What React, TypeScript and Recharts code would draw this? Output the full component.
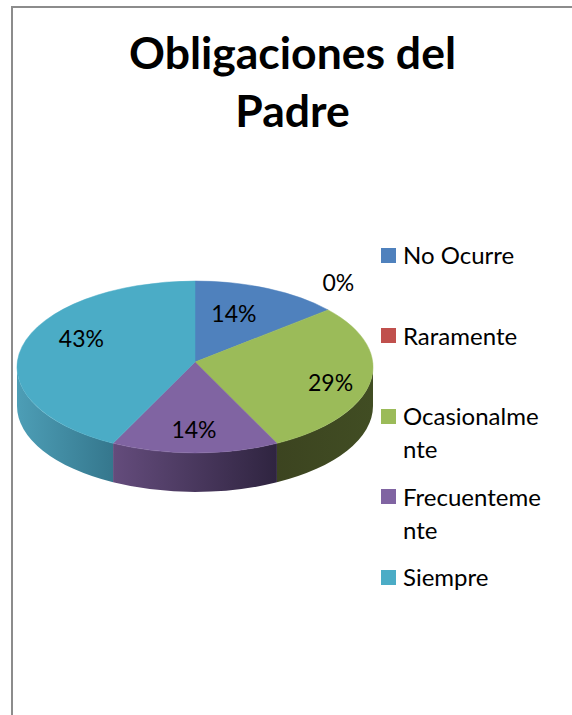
import React from "react";
import { PieChart, Pie, Legend } from "recharts";

const categories = ["No Ocurre", "Raramente", "Ocasionalmente", "Frecuentemente", "Siempre"];
const counts = [1, 0, 2, 1, 3];
const colors = ["#4F81BD", "#C0504D", "#9BBB59", "#8064A2", "#4BACC6"];
const wallFrom = ["#3b5f8c", "#8f3b39", "#414d23", "#644c7c", "#4d9eb6"];
const wallTo = ["#2a4566", "#6b2c2a", "#3c4420", "#2f2440", "#35778d"];
const titleLines = ["Obligaciones del", "Padre"];

const data = categories.map((name, i) => ({ name, value: counts[i], fill: colors[i] }));

const FONT = "Lato, 'Open Sans', sans-serif";
const CX = 195;
const CY = 367;
const RX = 178;
const RY = 86;
const APEX_DY = -5;
const DEPTH = 39;
const labelNudge = [[-9, -6], [57, -52], [28, 3], [-1, 9], [-6, -17]];

// slight perspective warp of the pie angle, as in the 3D original
const warp = (deg: number) => deg + 3.9 * Math.cos((deg * Math.PI) / 180);

const pt = (deg: number, dy = 0) => {
  const a = (deg * Math.PI) / 180;
  return [CX + RX * Math.cos(a), CY - RY * Math.sin(a) + dy];
};

const TopSlice = (p: any) => {
  const { startAngle, endAngle, fill } = p;
  if (Math.abs(startAngle - endAngle) < 0.01) return null;
  const [x0, y0] = pt(warp(startAngle));
  const [x1, y1] = pt(warp(endAngle));
  const large = Math.abs(startAngle - endAngle) > 180 ? 1 : 0;
  const d = `M${CX},${CY + APEX_DY} L${x0},${y0} A${RX},${RY} 0 ${large} 1 ${x1},${y1} Z`;
  return <path d={d} fill={fill} stroke={fill} strokeWidth={0.5} />;
};

const WallSlice = (p: any) => {
  const { startAngle, endAngle, index } = p;
  const s = Math.min(warp(startAngle), 0);
  const e = Math.max(warp(endAngle), -180);
  if (s - e < 0.01) return null;
  const [x0, y0] = pt(s);
  const [x1, y1] = pt(e);
  const [x2, y2] = pt(e, DEPTH);
  const [x3, y3] = pt(s, DEPTH);
  const d = `M${x0},${y0} A${RX},${RY} 0 0 1 ${x1},${y1} L${x2},${y2} A${RX},${RY} 0 0 0 ${x3},${y3} Z`;
  const id = `wall-${index}`;
  return (
    <g>
      <defs>
        <linearGradient id={id} x1="0" y1="0" x2="1" y2="0">
          <stop offset="0%" stopColor={index === 2 ? wallTo[index] : wallFrom[index]} />
          <stop offset="100%" stopColor={index === 2 ? wallFrom[index] : wallTo[index]} />
        </linearGradient>
      </defs>
      <path d={d} fill={`url(#${id})`} />
    </g>
  );
};

const renderLabel = (p: any) => {
  const { midAngle, percent, index } = p;
  const [x, y] = [
    CX + RX * 0.62 * Math.cos((midAngle * Math.PI) / 180),
    CY - RY * 0.62 * Math.sin((midAngle * Math.PI) / 180),
  ];
  const [dx, dy] = labelNudge[index];
  return (
    <text
      x={x + dx}
      y={y + dy}
      textAnchor="middle"
      dominantBaseline="central"
      fontFamily={FONT}
      fontSize={23}
      fill="#000"
    >
      {`${Math.round(percent * 100)}%`}
    </text>
  );
};

const renderLegend = (props: any) => {
  const seen = new Set<string>();
  const payload = (props.payload || []).filter((entry: any) => {
    if (entry.type === "none" || seen.has(entry.value)) return false;
    seen.add(entry.value);
    return true;
  });
  return (
    <div style={{ position: "relative", width: 572, height: 715 }}>
      {payload.map((entry: any, i: number) => (
        <div key={entry.value} style={{ position: "absolute", left: 381, top: 255 + 80.6 * i - 17 }}>
          <div
            style={{
              position: "absolute",
              left: 0,
              top: 9.5,
              width: 15,
              height: 15,
              background: entry.color,
            }}
          />
          <div
            style={{
              position: "absolute",
              left: 22,
              top: 0,
              width: 142,
              fontFamily: FONT,
              fontSize: 24,
              lineHeight: "33px",
              color: "#000",
              wordBreak: "break-all",
            }}
          >
            {entry.value}
          </div>
        </div>
      ))}
    </div>
  );
};

export default function App() {
  return (
    <div style={{ position: "absolute", left: 0, top: 0, width: 572, height: 715, background: "#fff", overflow: "hidden" }}>
      <div style={{ position: "absolute", left: 11, top: 6, width: 561, height: 2, background: "#8c8c8c" }} />
      <div style={{ position: "absolute", left: 11, top: 6, width: 2, height: 709, background: "#8c8c8c" }} />
      <div
        style={{
          position: "absolute",
          left: 0,
          width: 585,
          top: 23,
          textAlign: "center",
          fontFamily: FONT,
          fontWeight: 700,
          fontSize: 44.5,
          lineHeight: "58px",
          color: "#000",
        }}
      >
        {titleLines.map((t) => (
          <div key={t}>{t}</div>
        ))}
      </div>
      <PieChart width={572} height={715} style={{ position: "absolute", left: 0, top: 0 }}>
        <Pie
          data={data}
          dataKey="value"
          nameKey="name"
          cx={CX}
          cy={CY}
          outerRadius={RX}
          startAngle={90}
          endAngle={-270}
          shape={WallSlice}
          legendType="none"
          label={false}
          labelLine={false}
          stroke="none"
          isAnimationActive={false}
        />
        <Pie
          data={data}
          dataKey="value"
          nameKey="name"
          cx={CX}
          cy={CY}
          outerRadius={RX}
          startAngle={90}
          endAngle={-270}
          shape={TopSlice}
          legendType="square"
          label={renderLabel}
          labelLine={false}
          stroke="none"
          isAnimationActive={false}
        />
        <Legend
          content={renderLegend}
          itemSorter={null}
          wrapperStyle={{ position: "absolute", left: 0, top: 0, width: 572, height: 715 }}
        />
      </PieChart>
    </div>
  );
}
